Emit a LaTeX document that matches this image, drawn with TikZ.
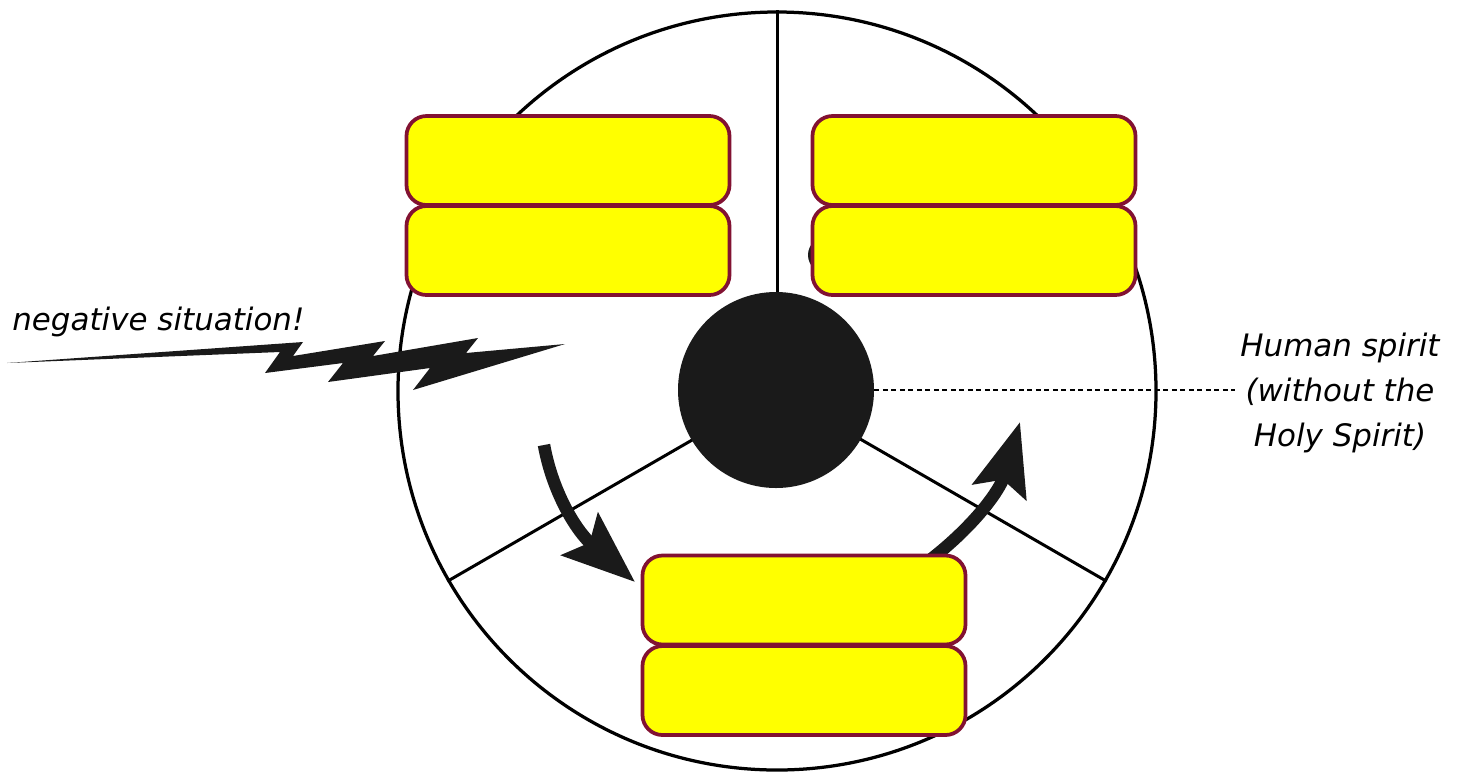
\documentclass[tikz,border=0pt]{standalone}
\usepackage{fontspec}
\setmainfont{DejaVu Sans}
\usepackage{tikz}
\usetikzlibrary{arrows.meta}
\usepackage{xcolor}
\definecolor{slabfill}{RGB}{255,255,0}
\definecolor{slabline}{RGB}{130,18,50}
\definecolor{inkblack}{RGB}{26,26,26}

\begin{document}
\begin{tikzpicture}[x=0.2mm, y=-0.2mm,
    slab/.style={rectangle, draw=slabline, fill=slabfill, line width=0.75mm, rounded corners=4mm, minimum width=64.6mm, minimum height=17.8mm, inner sep=0pt},
    wheel/.style={circle, draw, line width=0.65mm, minimum size=151.6mm, inner sep=0pt},
    core/.style={circle, fill=inkblack, minimum size=39.2mm, inner sep=0pt},
    spoke/.style={line width=0.6mm},
    turn/.style={line width=2.5mm, draw=inkblack, -{Stealth[length=14.5mm, width=11mm, inset=2.5mm]}},
    caption/.style={font=\itshape\fontsize{17.6pt}{25.6pt}\selectfont, inner sep=1mm, align=center}]
\useasboundingbox (0,0) rectangle (1465,771);
\node[wheel] (rim) at (777,391) {};
\draw[spoke] (777,391) -- (rim.90);
\draw[spoke] (777,391) -- (rim.210);
\draw[spoke] (777,391) -- (rim.330);
\fill[inkblack] (826,255) circle [radius=3.6mm];
\node[core] (spirit) at (776,390) {};
\draw[turn] (544,445) .. controls (552,490) and (575,530) .. (635,582);
\draw[turn] (930,560) .. controls (975,525) and (1000,490) .. (1020,422);
\node[slab] (body1) at (568,160.5) {};
\node[slab] (body2) at (568,250.5) {};
\node[slab] (soul1) at (974,160.5) {};
\node[slab] (soul2) at (974,250.5) {};
\node[slab] (will1) at (804,600) {};
\node[slab] (will2) at (804,690.5) {};
% lightning
\fill[inkblack] (7,363) -- (303,342) -- (293,356) -- (385,341) -- (373,356) -- (478,338) -- (466,353) -- (565,344)
  -- (413,390) -- (430,368) -- (328,382) -- (343,363) -- (265,373) -- (280,352) -- cycle;
\node[caption, anchor=base west] (neg) at (7,330) {negative situation!};
\node[caption] (human) at (1340,393) {Human spirit\\(without the\\Holy Spirit)};
\draw[line width=0.3mm, dash pattern=on 1mm off 0.7mm] (spirit.east) -- (spirit.east -| human.west);
\end{tikzpicture}
\end{document}
